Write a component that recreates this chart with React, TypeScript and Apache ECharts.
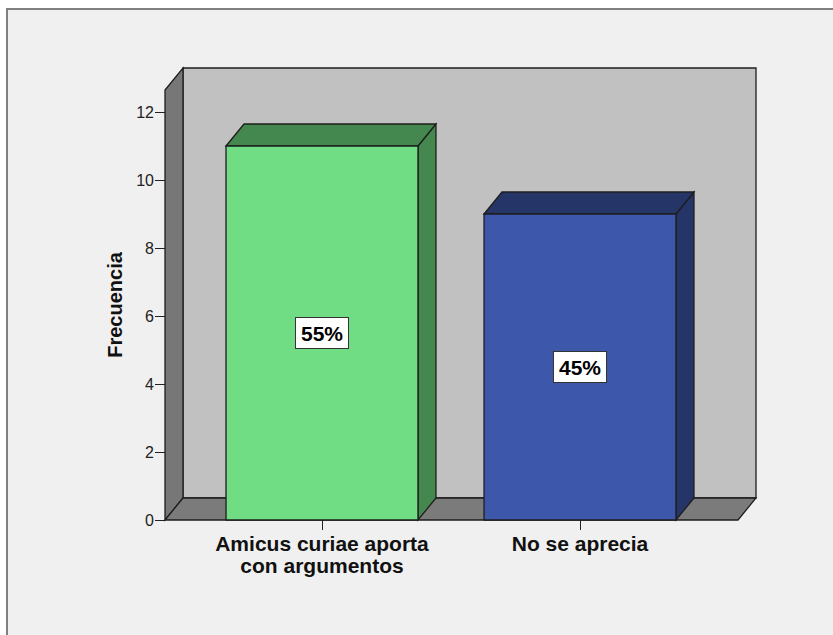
import React, { useEffect, useRef } from "react";
import * as echarts from "echarts";

const categories = ["Amicus curiae aporta\ncon argumentos", "No se aprecia"];
const frecuencias = [11, 9];
const frontColors = ["#70dd85", "#3d58aa"];
const sideColors = ["#44884f", "#263568"];
const yAxisName = "Frecuencia";

const DX = 18;
const DY = -22;
const HEADROOM = 22;
const EDGE = "#1e1e1e";

export default function App() {
  const ref = useRef<HTMLDivElement>(null);
  useEffect(() => {
    if (!ref.current) return;
    const chart = echarts.init(ref.current, undefined, { renderer: "svg" });
    const total = frecuencias.reduce((a, b) => a + b, 0);

    const option: any = {
      animation: false,
      backgroundColor: "#ffffff",
      graphic: {
        elements: [
          {
            type: "rect",
            z: -10,
            shape: { x: 7, y: 9, width: 840, height: 640 },
            style: { fill: "#f0f0f0", stroke: "#808080", lineWidth: 2 },
            silent: true,
          },
        ],
      },
      grid: [
        { left: 165, right: 95, top: 112, bottom: 115 },
        { left: 193, right: 124, top: 112, bottom: 115 },
      ],
      xAxis: [
        { gridIndex: 0, type: "value", min: 0, max: 1, show: false },
        {
          gridIndex: 1,
          type: "category",
          data: categories,
          axisLine: { show: false },
          axisTick: {
            show: true,
            interval: 0,
            alignWithLabel: true,
            length: 10,
            lineStyle: { color: "#222", width: 1 },
          },
          axisLabel: {
            interval: 0,
            margin: 12,
            color: "#111",
            fontFamily: "Liberation Sans, Arial, sans-serif",
            fontWeight: "bold",
            fontSize: 21,
            lineHeight: 22,
          },
        },
      ],
      yAxis: [
        {
          gridIndex: 0,
          type: "value",
          min: 0,
          max: 12,
          interval: 2,
          name: yAxisName,
          nameLocation: "middle",
          nameRotate: 90,
          nameGap: 40,
          nameTextStyle: {
            color: "#111",
            fontFamily: "Liberation Sans, Arial, sans-serif",
            fontWeight: "bold",
            fontSize: 20,
            padding: [0, 0, 0, 22],
          },
          splitLine: { show: false },
          axisLine: { show: true, lineStyle: { color: EDGE } },
          axisTick: { show: true, length: 10, lineStyle: { color: "#222" } },
          axisLabel: {
            margin: 11,
            color: "#222",
            fontFamily: "Liberation Sans, Arial, sans-serif",
            fontSize: 16,
          },
        },
        {
          gridIndex: 1,
          type: "value",
          min: 0,
          max: 12,
          interval: 2,
          show: false,
        },
      ],
      series: [
        {
          type: "custom",
          xAxisIndex: 0,
          yAxisIndex: 0,
          z: 1,
          silent: true,
          data: [[0, 0]],
          renderItem: (params: any, api: any) => {
            const cs = params.coordSys;
            const x0 = cs.x;
            const x1 = cs.x + cs.width;
            const yb = api.coord([0, 0])[1];
            const yt = cs.y - HEADROOM;
            const st = { stroke: EDGE, lineWidth: 1.3 };
            return {
              type: "group",
              children: [
                {
                  type: "rect",
                  shape: { x: x0 + DX, y: yt + DY, width: x1 - x0, height: yb - yt },
                  style: { fill: "#c1c1c1", ...st },
                },
                {
                  type: "polygon",
                  shape: {
                    points: [
                      [x0, yb],
                      [x0, yt],
                      [x0 + DX, yt + DY],
                      [x0 + DX, yb + DY],
                    ],
                  },
                  style: { fill: "#777777", ...st },
                },
                {
                  type: "polygon",
                  shape: {
                    points: [
                      [x0, yb],
                      [x0 + DX, yb + DY],
                      [x1 + DX, yb + DY],
                      [x1, yb],
                    ],
                  },
                  style: { fill: "#7b7b7b", ...st },
                },
              ],
            };
          },
        },
        {
          type: "custom",
          xAxisIndex: 1,
          yAxisIndex: 1,
          z: 3,
          silent: true,
          data: frecuencias.map((v, i) => [i, v]),
          renderItem: (params: any, api: any) => {
            const idx = api.value(0);
            const val = api.value(1);
            const bottom = api.coord([idx, 0]);
            const top = api.coord([idx, val]);
            const mid = api.coord([idx, val / 2]);
            const w = api.size([1, 0])[0] * 0.744;
            const left = bottom[0] - w / 2;
            const right = left + w;
            const yb = bottom[1];
            const yt = top[1];
            const i = params.dataIndex;
            const st = { stroke: EDGE, lineWidth: 1.3 };
            const pct = Math.round((val / total) * 100) + "%";
            return {
              type: "group",
              children: [
                {
                  type: "polygon",
                  shape: {
                    points: [
                      [right, yt],
                      [right + DX, yt + DY],
                      [right + DX, yb + DY],
                      [right, yb],
                    ],
                  },
                  style: { fill: sideColors[i], ...st },
                },
                {
                  type: "polygon",
                  shape: {
                    points: [
                      [left, yt],
                      [left + DX, yt + DY],
                      [right + DX, yt + DY],
                      [right, yt],
                    ],
                  },
                  style: { fill: sideColors[i], ...st },
                },
                {
                  type: "rect",
                  shape: { x: left, y: yt, width: w, height: yb - yt },
                  style: { fill: frontColors[i], ...st },
                },
                {
                  type: "text",
                  x: mid[0],
                  y: mid[1],
                  style: {
                    text: pct,
                    fill: "#000",
                    font: "bold 21px 'Liberation Sans', Arial, sans-serif",
                    align: "center",
                    verticalAlign: "middle",
                    backgroundColor: "#ffffff",
                    borderColor: "#333",
                    borderWidth: 1,
                    padding: [5, 5, 4, 5],
                  },
                },
              ],
            };
          },
        },
      ],
    };
    chart.setOption(option);
    return () => chart.dispose();
  }, []);

  return (
    <div
      ref={ref}
      style={{ position: "absolute", left: 0, top: 0, width: 833, height: 635 }}
    />
  );
}
